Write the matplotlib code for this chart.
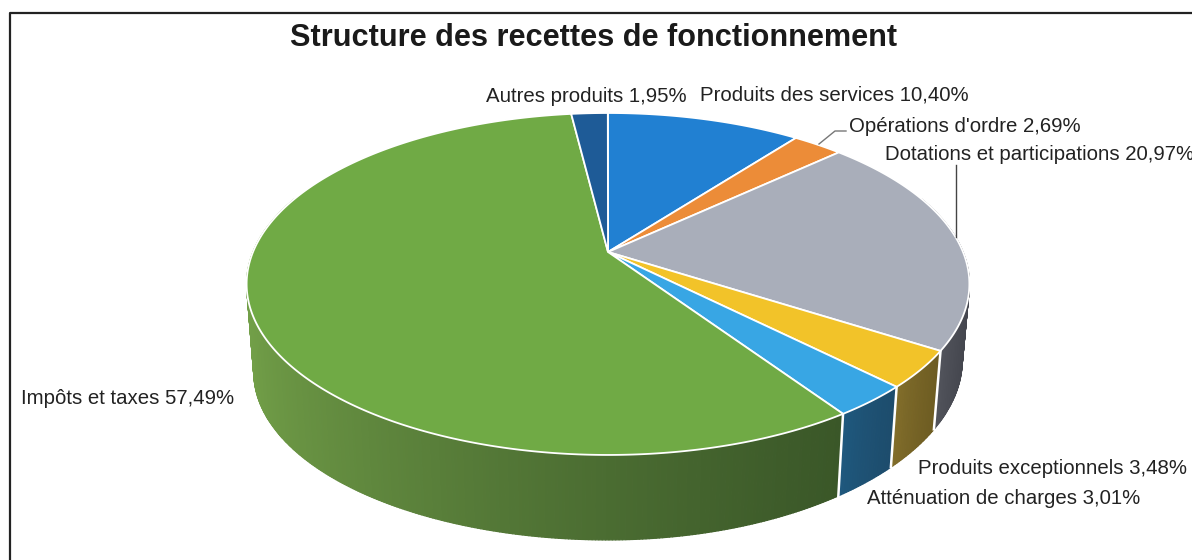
import matplotlib
matplotlib.use("Agg")
import matplotlib.pyplot as plt
from matplotlib.collections import PolyCollection
from matplotlib.colors import to_rgb
from matplotlib.patches import Polygon
import numpy as np

labels = ["Produits des services", "Opérations d'ordre", "Dotations et participations",
          "Produits exceptionnels", "Atténuation de charges", "Impôts et taxes", "Autres produits"]
values = [10.40, 2.69, 20.97, 3.48, 3.01, 57.49, 1.95]
top_colors = ["#2180d2", "#ec8c38", "#a9aeba", "#f2c329", "#38a6e4", "#70aa45", "#1e5b97"]
wall_left = ["#17538a", "#a05a20", "#62646c", "#85702c", "#1f5a80", "#729f48", "#173f69"]
wall_right = ["#17538a", "#a05a20", "#44464e", "#6d5c22", "#1d4c6c", "#3a5728", "#173f69"]
title = "Structure des recettes de fonctionnement"

# position of the value text (pixels), ha
label_pos = [(700, 95, "left"), (849, 126, "left"), (885, 155, "left"), (1187, 468, "right"),
             (1140, 499, "right"), (234, 399, "right"), (687, 96, "right")]

CX, CY = 608, 252
A, B, K = 165, 355, 0.187
DEPTH, SHRINK = 89, 0.98


def rim(theta, bottom=False):
    x, y = np.sin(theta), np.cos(theta)
    d = 1 + K * y
    if bottom:
        # wall gets a bit shorter towards the right on the scan
        return (CX + SHRINK * B * x / d,
                CY + DEPTH - SHRINK * A * y / d - 12 * np.clip(x, 0, None) ** 2)
    return CX + B * x / d, CY - A * y / d


def fr(v):
    return ("%.2f" % v).replace(".", ",")


fig = plt.figure(figsize=(11.92, 5.6), dpi=100)
ax = fig.add_axes([0, 0, 1, 1])
ax.set_xlim(0, 1192)
ax.set_ylim(560, 0)
ax.axis("off")
plt.rcParams['font.family'] = ['Liberation Sans', 'DejaVu Sans']

# frame, only top and left show on the scan
ax.plot([10, 10, 1192], [560, 13, 13], color="#222222", lw=1.6, zorder=1)

edges = np.cumsum([0] + values) / 100 * 2 * np.pi

# side walls
for i in range(len(values)):
    th = np.linspace(edges[i], edges[i + 1], max(int(values[i] * 8), 4))
    th = th[np.cos(th) < 0.35]
    if len(th) < 2:
        continue
    xt, yt = rim(th)
    xb, yb = rim(th, True)
    quads = []
    cols = []
    c0, c1 = np.array(to_rgb(wall_left[i])), np.array(to_rgb(wall_right[i]))
    for j in range(len(th) - 1):
        quads.append([(xt[j], yt[j]), (xt[j + 1], yt[j + 1]), (xb[j + 1], yb[j + 1]), (xb[j], yb[j])])
        # left end of the slice is lighter, right end darker
        f = ((xt[j] - xt.min()) / (xt.max() - xt.min())) ** 0.7
        cols.append(c0 + (c1 - c0) * f)
    ax.add_collection(PolyCollection(quads, facecolors=cols, edgecolors=cols, linewidths=0.9, zorder=2))

# white separators between walls
for e in edges:
    if np.cos(e) < 0:
        xt, yt = rim(e)
        xb, yb = rim(e, True)
        ax.plot([xt, xb], [yt, yb], color="white", lw=1.8, zorder=3)

# top faces
for i in range(len(values)):
    th = np.linspace(edges[i], edges[i + 1], max(int(values[i] * 8), 4))
    xt, yt = rim(th)
    pts = np.column_stack([np.r_[CX, xt], np.r_[CY, yt]])
    ax.add_patch(Polygon(pts, closed=True, facecolor=top_colors[i], edgecolor="white", lw=1.3, zorder=4))

# leader lines
ax.plot([819, 835, 846], [144, 131, 131], color="#777777", lw=1, zorder=5)
ax.plot([956, 956], [165, 237], color="#444444", lw=1, zorder=5)

ax.text(594, 38, title, fontsize=22.1, fontweight="bold", ha="center", va="center", color="#1a1a1a")
for lab, v, (x, y, ha) in zip(labels, values, label_pos):
    ax.text(x, y, lab + " " + fr(v) + "%", fontsize=14.7, ha=ha, va="center", color="#222222", zorder=6)

fig.savefig("out.png", dpi=100)
